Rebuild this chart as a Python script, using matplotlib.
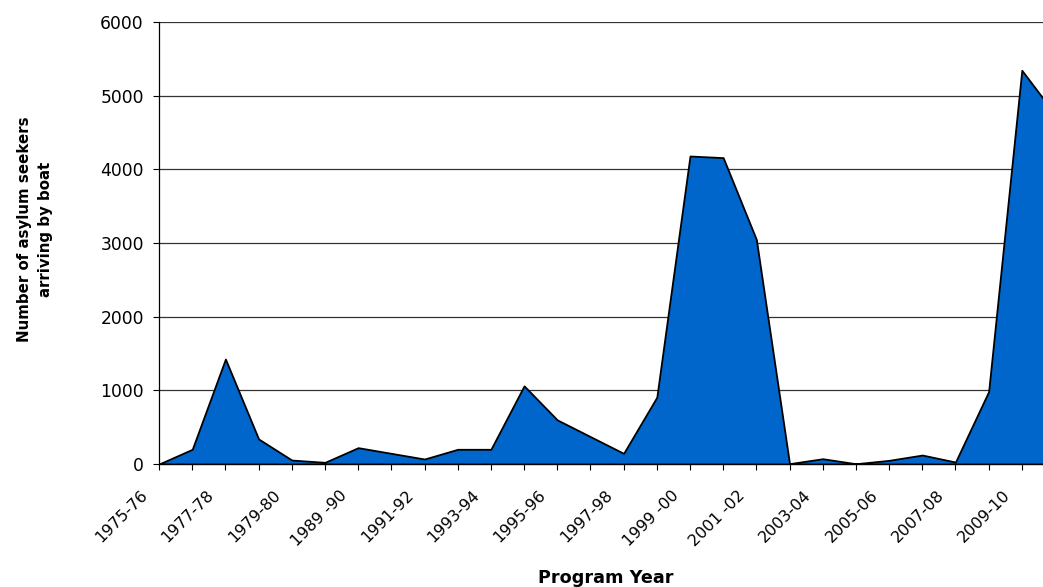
import matplotlib
matplotlib.use("Agg")
import matplotlib.pyplot as plt
from matplotlib.transforms import ScaledTranslation

plt.rcParams['font.family'] = ['DejaVu Sans']

# program years (only every second label is shown on the axis)
years = ['1975-76', '1976-77', '1977-78', '1978-79', '1979-80', '1988-89',
         '1989 -90', '1990-91', '1991-92', '1992-93', '1993-94', '1994-95',
         '1995-96', '1996-97', '1997-98', '1998-99', '1999 -00', '2000-01',
         '2001 -02', '2002-03', '2003-04', '2004-05', '2005-06', '2006-07',
         '2007-08', '2008-09', '2009-10', '2010-11']
# boat arrivals per program year
arrivals = [0, 200, 1425, 340, 54, 23,
            222, 145, 68, 200, 200, 1061,
            599, 372, 145, 907, 4181, 4159,
            3048, 5, 72, 4, 50, 122,
            27, 983, 5345, 4750]
yticks = [0, 1000, 2000, 3000, 4000, 5000, 6000]

fig = plt.figure(figsize=(10.43, 5.87), dpi=100)
# right edge of the plot runs past the figure, as in the original
ax = fig.add_axes([0.1525, 0.2095, 0.859, 0.753])

x = list(range(len(years)))
ax.fill_between(x, arrivals, 0, facecolor='#0066CC', edgecolor='black',
                linewidth=1.3, zorder=3)

ax.set_xlim(0, len(years) - 1)
ax.set_ylim(0, 6000)
ax.set_yticks(yticks)
ax.set_yticklabels([str(t) for t in yticks], fontsize=12.3)
ax.set_xticks(x)
ax.set_xticklabels([y if i % 2 == 0 else '' for i, y in enumerate(years)],
                   rotation=45, ha='right', rotation_mode='anchor', fontsize=11.5)
ax.tick_params(axis='both', direction='out', length=4, width=0.8, color='black')
ax.tick_params(axis='x', pad=7)
ax.tick_params(axis='y', pad=7)

# nudge the slanted labels down and left
shift = ScaledTranslation(-0.19, -0.08, fig.dpi_scale_trans)
for lab in ax.get_xticklabels():
    lab.set_transform(lab.get_transform() + shift)

ax.yaxis.grid(True, color='#333333', linewidth=0.9, zorder=1)
ax.set_axisbelow(True)
for s in ['top', 'right']:
    ax.spines[s].set_visible(False)
ax.spines['left'].set_linewidth(0.9)
ax.spines['bottom'].set_linewidth(1.0)
ax.spines['bottom'].set_zorder(4)

fig.text(606 / 1043, 1 - 578 / 587, 'Program Year', ha='center', va='center',
         fontsize=12.7, fontweight='bold')
fig.text(35 / 1043, 1 - 229 / 587, 'Number of asylum seekers\narriving by boat',
         ha='center', va='center', rotation=90, multialignment='center',
         fontsize=10.8, fontweight='bold', linespacing=1.5)

fig.savefig('out.png', dpi=100)
